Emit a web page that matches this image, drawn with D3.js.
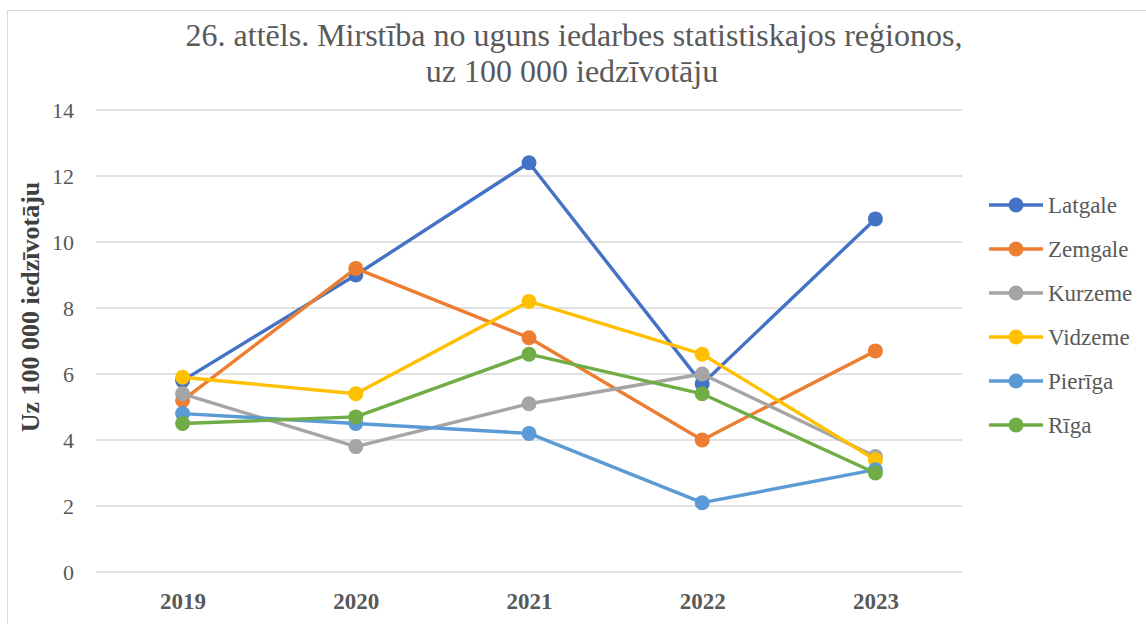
<!DOCTYPE html>
<html lang="lv">
<head>
<meta charset="UTF-8">
<title>Mirstība no uguns iedarbes</title>
<script src="https://d3js.org/d3.v7.min.js"></script>
<style>
  body { margin: 0; background: #fff; }
</style>
</head>
<body>
<svg id="chart" width="1146" height="624"></svg>
<script>
// data
const years = ["2019", "2020", "2021", "2022", "2023"];
const regions = ["Latgale", "Zemgale", "Kurzeme", "Vidzeme", "Pierīga", "Rīga"];
const latgale = [5.8, 9.0, 12.4, 5.7, 10.7];
const zemgale = [5.2, 9.2, 7.1, 4.0, 6.7];
const kurzeme = [5.4, 3.8, 5.1, 6.0, 3.5];
const vidzeme = [5.9, 5.4, 8.2, 6.6, 3.4];
const pieriga = [4.8, 4.5, 4.2, 2.1, 3.1];
const riga = [4.5, 4.7, 6.6, 5.4, 3.0];
const yTicks = [0, 2, 4, 6, 8, 10, 12, 14];
const colors = ["#4472c4", "#ed7d31", "#a5a5a5", "#ffc000", "#5b9bd5", "#70ad47"];

const series = [latgale, zemgale, kurzeme, vidzeme, pieriga, riga];
const serif = "'Liberation Serif', 'Times New Roman', serif";

const svg = d3.select("#chart");

// outer frame
svg.append("rect")
  .attr("x", 7.5).attr("y", 10.5)
  .attr("width", 1150).attr("height", 640)
  .attr("fill", "none").attr("stroke", "#d9d9d9");

// title
svg.append("text")
  .attr("x", 574).attr("y", 46)
  .attr("text-anchor", "middle")
  .style("font-family", serif).style("font-size", "32px")
  .attr("fill", "#595959")
  .text("26. attēls. Mirstība no uguns iedarbes statistiskajos reģionos,");
svg.append("text")
  .attr("x", 572).attr("y", 82)
  .attr("text-anchor", "middle")
  .style("font-family", serif).style("font-size", "32px")
  .attr("fill", "#595959")
  .text("uz 100 000 iedzīvotāju");

const plotLeft = 96, plotRight = 962, plotTop = 110, plotBottom = 572;

const x = d3.scalePoint().domain(years).range([plotLeft, plotRight]).padding(0.5);
const y = d3.scaleLinear().domain([0, 14]).range([plotBottom, plotTop]);

// gridlines
svg.append("g")
  .selectAll("line")
  .data(yTicks)
  .join("line")
  .attr("x1", plotLeft).attr("x2", plotRight)
  .attr("y1", d => y(d)).attr("y2", d => y(d))
  .attr("stroke", "#d9d9d9").attr("stroke-width", 1.5);

// y axis labels
const yAxis = svg.append("g")
  .attr("transform", `translate(${plotLeft},0)`)
  .call(d3.axisLeft(y).tickValues(yTicks).tickSize(0).tickPadding(22));
yAxis.select(".domain").remove();
yAxis.selectAll("text")
  .style("font-family", serif).style("font-size", "22px")
  .attr("fill", "#595959");

// x axis labels
const xAxis = svg.append("g")
  .attr("transform", `translate(0,${plotBottom})`)
  .call(d3.axisBottom(x).tickSize(0).tickPadding(21));
xAxis.select(".domain").remove();
xAxis.selectAll("text")
  .style("font-family", serif).style("font-size", "23px").style("font-weight", "bold")
  .attr("fill", "#595959");

// y title
svg.append("text")
  .attr("transform", "translate(39,307) rotate(-90)")
  .attr("text-anchor", "middle")
  .style("font-family", serif).style("font-size", "26px").style("font-weight", "bold")
  .attr("fill", "#404040")
  .text("Uz 100 000 iedzīvotāju");

// lines + markers
const line = d3.line().x((d, i) => x(years[i])).y(d => y(d));

series.forEach((vals, k) => {
  const g = svg.append("g");
  g.append("path")
    .datum(vals)
    .attr("d", line)
    .attr("fill", "none")
    .attr("stroke", colors[k])
    .attr("stroke-width", 3.4)
    .attr("stroke-linejoin", "round");
  g.selectAll("circle")
    .data(vals)
    .join("circle")
    .attr("cx", (d, i) => x(years[i]))
    .attr("cy", d => y(d))
    .attr("r", 7.5)
    .attr("fill", colors[k]);
});

// legend
const legend = svg.append("g");
regions.forEach((name, k) => {
  const ly = 205 + k * 44;
  legend.append("line")
    .attr("x1", 989).attr("x2", 1043)
    .attr("y1", ly).attr("y2", ly)
    .attr("stroke", colors[k]).attr("stroke-width", 3.4);
  legend.append("circle")
    .attr("cx", 1016).attr("cy", ly).attr("r", 7.5)
    .attr("fill", colors[k]);
  legend.append("text")
    .attr("x", 1048).attr("y", ly + 8)
    .style("font-family", serif).style("font-size", "23px")
    .attr("fill", "#595959")
    .text(name);
});
</script>
</body>
</html>
